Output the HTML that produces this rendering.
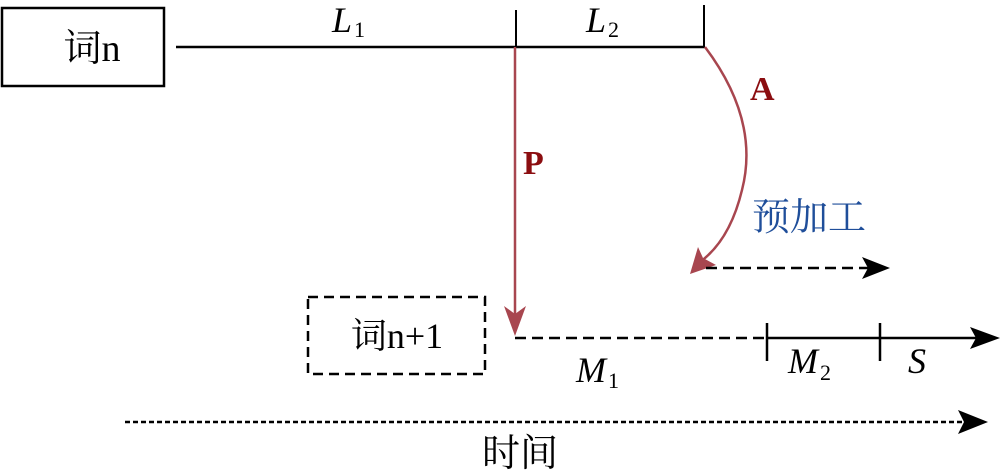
<!DOCTYPE html>
<html><head><meta charset="utf-8"><style>html,body{margin:0;padding:0;background:#fff;width:1000px;height:474px;overflow:hidden}</style></head>
<body>
<svg width="1000" height="474" viewBox="0 0 1000 474" xmlns="http://www.w3.org/2000/svg" font-family="'Liberation Serif','Noto Serif CJK SC',serif">
<rect x="2" y="8" width="162" height="78" fill="none" stroke="#000" stroke-width="2.5"/>
<text x="92" y="61" font-size="38" text-anchor="middle">词n</text>
<line x1="176" y1="47" x2="705" y2="47" stroke="#000" stroke-width="2.5"/>
<line x1="516" y1="10" x2="516" y2="47" stroke="#000" stroke-width="2"/>
<line x1="704" y1="5" x2="704" y2="47" stroke="#000" stroke-width="2"/>
<text x="332" y="32" font-size="36" font-style="italic">L</text><text x="354" y="37" font-size="22">1</text>
<text x="586" y="32" font-size="36" font-style="italic">L</text><text x="608" y="37" font-size="22">2</text>
<line x1="515" y1="47" x2="515" y2="322" stroke="#a8464f" stroke-width="2.5"/>
<path d="M504,306 L515,336 L526,306 L515,314 Z" fill="#a8464f"/>
<text x="523" y="174" font-size="34" font-weight="bold" fill="#8b0d10">P</text>
<path d="M705,47 Q760,120 742,190 Q730,240 700,262" fill="none" stroke="#a8464f" stroke-width="2.5"/>
<path d="M690,274 L698,247 L703,258 L716,265 Z" fill="#a8464f"/>
<text x="750" y="100" font-size="34" font-weight="bold" fill="#8b0d10">A</text>
<text x="752" y="230" font-size="38" fill="#1f4e9a" font-family="'Noto Serif CJK SC',serif">预加工</text>
<line x1="706" y1="268" x2="880" y2="268" stroke="#000" stroke-width="2.5" stroke-dasharray="11,6"/>
<path d="M862,257 L890,268 L862,279 L868,268 Z" fill="#000"/>
<rect x="308" y="297" width="177" height="77" fill="none" stroke="#000" stroke-width="2.5" stroke-dasharray="10,6"/>
<text x="397" y="348" font-size="36" text-anchor="middle">词n+1</text>
<line x1="515" y1="338" x2="766" y2="338" stroke="#000" stroke-width="2.5" stroke-dasharray="11,6"/>
<line x1="766" y1="338" x2="985" y2="338" stroke="#000" stroke-width="2.5"/>
<path d="M970,327 L1000,338 L970,349 L976,338 Z" fill="#000"/>
<line x1="767" y1="323" x2="767" y2="361" stroke="#000" stroke-width="2.5"/>
<line x1="880" y1="323" x2="880" y2="361" stroke="#000" stroke-width="2.5"/>
<text x="576" y="382" font-size="36" font-style="italic">M</text><text x="608" y="388" font-size="22">1</text>
<text x="788" y="373" font-size="36" font-style="italic">M</text><text x="820" y="380" font-size="22">2</text>
<text x="908" y="373" font-size="36" font-style="italic">S</text>
<line x1="125" y1="422" x2="970" y2="422" stroke="#000" stroke-width="2.5" stroke-dasharray="5,3"/>
<path d="M958,410 L988,422 L958,434 L964,422 Z" fill="#000"/>
<text x="520" y="466" font-size="38" text-anchor="middle" font-family="'Noto Serif CJK SC',serif">时间</text>
</svg>
</body></html>
